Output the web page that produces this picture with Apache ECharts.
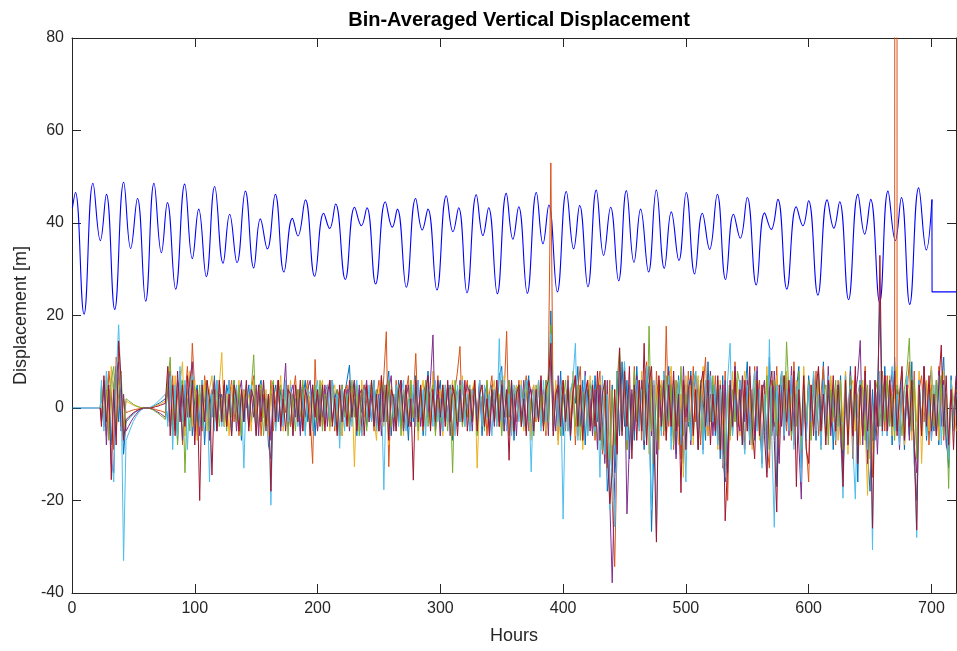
<!DOCTYPE html>
<html><head><meta charset="utf-8">
<script src="https://cdn.jsdelivr.net/npm/echarts@6/dist/echarts.min.js"></script>
<style>html,body{margin:0;padding:0;background:#fff}#c{width:957px;height:651px}</style>
</head><body><div id="c"></div>
<script>
// ---------------- DATA ----------------
const xTickValues = [0, 100, 200, 300, 400, 500, 600, 700];
const yTickValues = [-40, -20, 0, 20, 40, 60, 80];

// Depth (tide) trace: turning points
const tideHours = [
  0.3,2.8,9.8,17.1,23.1,28.0,34.8,42.1,47.8,53.3,
  60.0,66.8,72.8,77.7,84.4,91.8,98.0,103.2,109.4,116.2,
  123.0,128.4,134.4,141.2,148.0,153.4,159.1,165.6,172.6,179.5,
  184.0,190.1,197.6,205.0,209.9,214.7,222.6,230.2,235.7,240.2,
  247.3,255.2,260.9,265.0,272.3,279.9,285.3,289.9,297.2,304.9,
  310.3,314.9,321.7,329.3,334.7,339.3,346.4,353.7,359.1,363.8,
  370.8,378.2,383.6,388.4,395.3,402.6,408.6,413.5,420.2,427.0,
  433.0,438.7,445.2,451.5,457.7,463.1,469.6,475.9,482.4,488.1,
  494.3,500.3,507.1,513.4,519.3,525.6,532.3,538.8,544.3,550.0,
  557.3,564.1,569.5,574.9,582.2,589.9,595.3,599.9,607.5,615.1,
  620.5,625.2,632.5,640.1,645.6,650.5,657.8,664.6,670.6,675.5,
  682.3,689.6,695.8,700.4
];
const tideValues = [
  43.2,46.6,20.3,48.6,36.2,46.2,21.3,48.8,34.5,45.3,
  23.1,48.6,33.6,44.4,25.7,48.4,32.3,43.0,28.4,47.9,
  31.3,41.9,31.4,46.9,30.3,40.9,34.4,46.2,29.4,41.0,
  37.2,45.0,28.5,42.1,38.8,44.1,27.8,43.4,39.4,43.3,
  26.8,44.6,39.1,43.0,26.1,45.3,38.5,43.0,25.5,45.9,
  38.1,43.3,24.9,46.1,37.3,43.3,24.7,46.4,36.5,43.5,
  24.8,46.6,35.5,43.9,25.1,46.8,34.4,43.8,26.2,47.1,
  33.0,43.4,27.5,47.0,31.5,43.0,29.4,47.1,30.2,42.4,
  31.9,46.6,29.0,42.1,34.3,46.2,27.8,41.9,36.7,45.5,
  26.6,42.2,38.6,45.1,25.7,43.5,39.4,44.8,24.4,45.0,
  38.9,44.6,23.4,46.2,37.6,45.1,22.8,46.9,36.2,45.5,
  22.4,47.6,34.2,45.1
];
const tideTailHours = [700.4, 700.5, 720];
const tideTailValues = [45.1, 25.1, 25.1];

// Bin displacement series: values every 2 h from 24 h to 720 h (rows of 20 h)
const gridStart = 24, gridEnd = 720, gridStep = 2;
const leadHours = [0, 23];
const leadValues = [0, 0];

const binBlue = [
 [3,-4,6,2,-8,5,9,-3,6,-10],
 [-3,-2.4,-1.8,-1.3,-0.8,-0.5,-0.2,-0.1,0,0],
 [0.1,0.3,0.6,0.9,1.2,1.6,2,-3,6,-5],
 [4,-7,8,1,-4,3,7,-6,2,5],
 [-3,6,-8,2,4,-2,7,-5,1,3],
 [-4,5,2,-6,6,-1,3,-7,4,0],
 [5,-3,2,-5,4,6,-2,3,-8,-11],
 [2,5,-3,4,-2,6,1,-4,3,-1],
 [4,-5,2,6,-3,1,5,-6,3,-2],
 [5,-1,3,-4,6,2,-5,4,-2,3],
 [6,9.3,-3,2,-6,4,-1,5,-4,2],
 [-3,5,1,-5,7,-2,4,8,-6,3],
 [-2,6,-4,3,1,-7,5,-3,7,-1],
 [4,-6,3,8,-2,5,-4,2,6,-5],
 [3,-1,5,-7,2,4,-3,6,-2,1],
 [-5,4,2,-3,6,-6,3,1,-4,5],
 [2,-3,7,9,-5,3,-2,6,-7,4],
 [-1,5,-4,3,7,-6,2,-3,5,1],
 [-4,6,-2,21,-5,4,-3,8,-6,2],
 [5,-7,3,1,9,-4,6,-8,4,2],
 [-5,7,-3,4,-9,6,-18,-12,5,-14],
 [8,-6,10,-4,6,-11,3,-7,9,-2],
 [5,-9,7,4,-26.7,-8,3,6,-5,8],
 [-3,9,-6,4,-10,7,-2,-12,5,-4],
 [8,-5,3,-9,6,2,-7,10,-3,5],
 [-6,4,-11,7,-16,-9,5,-4,9,-2],
 [6,-8,3,10,-5,2,-7,8,-3,-12],
 [4,-9,11,-6,5,-17,2,8,-4,7],
 [-3,6,-8,4,9,-13,3,-5,7,-2],
 [5,-7,8,-3,10,-6,2,6,-9,4],
 [-2,7,-14,3,-6,9,-4,5,-16,6],
 [-5,8,-10,-18,4,-7,3,22.7,-4,9],
 [-3,6,-8,11,-5,2,7,-9,4,-6],
 [10,-12,-20,5,-4,8,-7,3,9,-5],
 [6,-8,4,11,-6,-13,7,-3,5]
];
const binOrange = [
 [-2,5,-6,8,3,-9,11,6,-4,2],
 [-1,-0.8,-0.6,-0.4,-0.3,-0.2,-0.1,0,0,0],
 [-0.1,-0.2,-0.3,-0.5,-0.6,-0.8,-1,5,-4,7],
 [-5,3,6,-8,2,9,-2,14,4,-6],
 [3,-5,7,2,-6,4,1,-3,6,-2],
 [5,-4,2,6,-3,4,-6,3,-1,5],
 [-3,4,7,-2,5,-6,3,1,-4,6],
 [-5,2,6,-3,4,-1,5,-4,3,7],
 [-2,4,-5,3,6,-2,-12,10.5,-3,5],
 [-4,3,5,-2,6,-5,2,4,-6,3],
 [5,-3,2,6,-4,3,-6,5,1,-3],
 [4,-5,2,6,-3,7,16.5,-12.7,3,-4],
 [6,-2,4,-5,3,7,-4,2,11.8,-3],
 [2,-5,6,3,-4,5,-2,7,-6,3],
 [-3,5,2,-6,4,8,13.3,-4,3,6],
 [-4,2,6,-3,5,-1,4,-6,3,7],
 [-2,5,-4,6,3,16.6,-6,2,4,-3],
 [6,-4,3,7,-5,2,5,-3,6,-1],
 [4,-6,8,53,-4,5,-7,3,6,-5],
 [7,-3,5,-8,4,9,-5,2,6,-4],
 [5,-7,3,8,-10,4,-13,6,-20,-34.3],
 [-8,11,-5,7,-9,4,-6,9,-3,6],
 [-7,5,10,-4,6,-12,8,-2,5,-6],
 [17.7,-4,7,-9,3,6,-11,5,-3,8],
 [-5,9,-3,6,-8,4,11,-6,3,-2],
 [7,-5,4,-13,8,-20,3,-6,10,-4],
 [-3,6,-9,5,2,-7,9,-4,6,-11],
 [5,-8,-13,6,-4,9,-6,3,7,-5],
 [4,-7,10,-3,6,-10,2,-8,-16,5],
 [-4,8,-6,3,9,-5,7,-2,4,-8],
 [6,-3,-9,8,-5,4,-11,7,-2,5],
 [-6,9,-12,4,-15,6,-4,3,8,-5],
 [7,-3,5,2,0,-4,8,-6,3,10],
 [-5,8,-10,4,7,-3,6,-8,5,2],
 [-6,9,4,-7,3,-11,6,-2,4]
];
// very sharp excursion of the orange bin near 671 h (goes far off scale)
const orangeSpikeHours = [671.0, 671.6, 672.2];
const orangeSpikeValues = [2, 1000, 1];

const binYellow = [
 [4,-3,7,-5,9,2,-6,12,5,-4],
 [1.5,1.2,0.9,0.6,0.4,0.2,0.1,0,0,0],
 [0.1,0.2,0.5,0.7,0.9,1.2,1.5,6,9,-4],
 [7,-3,5,10,-6,2,8,-4,6,-7],
 [3,-2,6,-5,4,7,-3,2,5,12],
 [-4,3,-6,5,2,-3,6,-5,4,1],
 [3,-5,6,2,-4,5,-2,4,-6,3],
 [5,-3,2,7,-5,3,-2,6,-4,2],
 [-3,6,-4,2,5,-6,3,1,-5,4],
 [6,-2,4,-5,3,5,-3,2,-6,4],
 [-4,2,5,-12.7,3,-5,6,-2,4,-3],
 [5,-2,-7,4,6,-4,3,-8,5,2],
 [-5,4,2,-6,5,-3,6,-2,4,-7],
 [3,6,-4,5,-3,8,-5,2,4,-6],
 [5,-3,2,6,-5,4,-2,7,-4,3],
 [-3,4,6,-13,2,5,-4,6,-2,3],
 [6,-4,3,-5,7,-2,4,-6,3,5],
 [-2,6,-5,4,2,-7,5,-3,6,-4],
 [3,-5,7,9,-4,6,-8,2,5,-3],
 [6,-4,8,-6,3,5,-9,4,-2,7],
 [-5,4,-8,6,3,-11,5,-7,-15,4],
 [-9,7,-4,10,-6,3,-8,6,2,-5],
 [8,-6,4,-10,7,-3,5,-9,6,2],
 [-7,5,9,-4,6,-8,3,-15,7,-3],
 [5,-8,4,7,-5,9,-3,-6,8,-4],
 [3,-9,6,-4,-12,5,-7,8,-3,6],
 [-6,4,8,-5,3,-9,6,2,-7,5],
 [-4,9,-7,5,-3,7,-10,4,-2,8],
 [-5,3,-8,6,4,-7,9,-3,5,-6],
 [8,-4,6,-9,3,5,-6,7,-3,4],
 [-7,5,-3,8,-10,4,6,-5,3,-8],
 [6,-4,-18.9,5,-9,3,-6,8,-3,5],
 [-4,7,-6,3,9,-5,2,-8,6,4],
 [-7,5,-3,8,-12,4,6,-5,9,-3],
 [5,-7,3,8,-4,-9,6,2,-5]
];
const binPurple = [
 [-3,6,-8,4,-12,-14,7,10,-5,3],
 [-5,-4,-3,-2.1,-1.4,-0.8,-0.4,-0.1,0,0],
 [-0.1,-0.3,-0.6,-0.9,-1.2,-1.6,-2,4,8,-5],
 [-4,6,3,-7,5,-2,6,10,-5,3],
 [-6,4,-3,5,-7,2,6,-4,3,-2],
 [5,-3,6,-2,4,-5,3,6,-3,2],
 [-4,3,-2,5,-6,4,2,-5,3,-7],
 [4,-3,6,-5,2,9.7,-4,3,5,-2],
 [3,-6,5,-2,4,6,-4,2,-5,3],
 [-2,5,-4,6,-3,2,4,-6,5,-1],
 [4,-5,3,6,-2,5,-4,2,6,-3],
 [2,6,-4,3,-6,5,-3,4,7,-5],
 [4,-3,6,-5,2,5,-4,3,-2,6],
 [-4,3,5,-2,6,15.8,-5,3,-6,4],
 [-2,5,-6,3,4,-4,6,-3,2,5],
 [3,-5,4,-2,6,-4,3,5,-6,2],
 [-4,6,-3,5,-5,2,6,-4,3,-6],
 [5,-2,6,-5,3,4,-6,2,-3,6],
 [-3,5,-6,12,3,-5,7,-4,4,-2],
 [6,-5,3,7,-6,4,-3,8,-5,2],
 [-6,4,-9,5,-3,-12,6,-20,-37.8,-15],
 [-7,6,-3,9,-22.9,-8,4,-5,7,-4],
 [6,-8,3,9,-6,5,-10,4,-3,7],
 [-5,8,-4,6,-11,3,-7,9,-2,5],
 [-8,4,7,-5,3,-9,6,-3,8,-6],
 [4,-7,5,-10,6,-14,3,-5,9,-2],
 [-5,7,-3,6,-8,4,-6,9,-4,3],
 [6,-10,4,-5,8,-3,-12,5,-7,4],
 [-6,9,-4,3,-8,-19.7,5,-7,6,-3],
 [7,-5,3,-8,6,-4,9,-6,2,-5],
 [5,-7,-12,4,-3,8,-6,3,7,14.6],
 [-8,4,-12,6,-7,3,-10,5,-4,7],
 [-6,3,8,-5,4,-9,6,-3,5,-7],
 [4,-8,-14,6,-5,9,-3,5,-7,3],
 [-5,8,-4,6,-8,-10,5,-3,7]
];
const binGreen = [
 [5,-2,4,-7,6,9,-5,3,8,-6],
 [2,1.6,1.2,0.8,0.5,0.3,0.1,0,0,0],
 [-0.2,-0.4,-0.8,-1.1,-1.6,-2,-2.5,6,11,-6],
 [3,-8,5,6,-14,2,-5,7,4,-3],
 [5,-4,2,6,-5,3,-2,6,-4,2],
 [3,-5,4,-2,6,-3,5,-6,2,4],
 [-2,4,11.5,-4,3,5,-6,2,-3,4],
 [6,-4,3,5,-2,4,-6,3,2,-5],
 [4,-2,6,-5,3,2,-4,5,-3,6],
 [-5,3,2,-4,6,-3,4,-6,5,-2],
 [3,-4,6,-2,5,-6,3,4,-5,2],
 [6,-3,4,-5,2,5,-3,6,-4,3],
 [-3,5,-6,4,2,-4,6,-2,5,-5],
 [4,-3,6,-4,3,5,-6,2,-3,5],
 [2,-5,4,-14,6,-3,5,-4,3,-2],
 [5,-3,4,-6,3,2,-5,6,-2,4],
 [-3,5,2,-6,4,-2,6,-5,3,4],
 [5,-4,3,6,-3,2,-6,5,-2,3],
 [-4,6,-3,18,-5,3,5,-6,2,6],
 [-5,3,6,-4,5,-7,3,4,-6,5],
 [3,-6,5,-3,-9,6,-4,-11,4,-8],
 [6,13,-5,7,-9,4,-6,8,-3,5],
 [-4,6,-8,17.7,-5,3,-7,6,4,-5],
 [7,-3,5,-8,6,-4,9,-6,3,-2],
 [-6,5,8,-4,6,-7,3,5,-3,7],
 [-4,6,-8,3,-11,5,-6,4,-3,8],
 [5,-6,3,-4,7,-8,4,6,-5,2],
 [-5,7,-9,4,6,-6,3,8,-4,14.3],
 [3,-6,5,-4,8,-9,4,-3,6,-7],
 [5,-3,7,-6,3,5,-8,4,-2,6],
 [-4,6,-9,5,-3,7,-5,3,-8,6],
 [4,-7,5,-11,-6,3,6,-4,5,-3],
 [6,-4,3,-7,5,2,-6,4,8,15.1],
 [-5,6,-11,4,-3,7,-6,5,3,-4],
 [6,-4,7,-6,3,-17.4,5,-3,4]
];
const binCyan = [
 [6,-5,8,3,-10,-16,7,18,4,-33],
 [-7,-5.6,-4.2,-2.9,-1.9,-1.1,-0.5,-0.1,0,0],
 [0.2,0.5,0.9,1.4,1.9,2.4,3,-4,7,-9],
 [5,-6,9,-3,6,-9,4,7,-5,2],
 [-4,6,-3,5,-16,3,-5,6,2,-4],
 [4,-3,6,-5,2,5,-4,3,-13,5],
 [-3,5,2,-6,4,-2,6,-4,3,-21],
 [3,-5,4,2,-4,6,-3,5,-6,2],
 [-4,5,2,-6,4,3,-5,2,6,-3],
 [4,-3,5,-2,6,-4,3,-8.7,4,-5],
 [2,5,-4,3,6,-3,-6,4,-2,5],
 [-3,6,-5,2,4,-17.7,5,-6,3,-2],
 [5,-4,3,6,-5,2,-3,5,-4,6],
 [-2,4,-6,5,3,-4,6,-3,2,-5],
 [5,-3,4,2,-6,5,-3,6,-4,3],
 [-5,4,2,-3,6,-4,5,-2,3,-6],
 [4,-4,15,-3,6,-5,3,-6,5,2],
 [-3,5,-4,6,3,-13.8,4,-2,6,-5],
 [6,-3,4,16,-6,3,-4,5,-24,3],
 [-5,4,6,14,-7,3,-4,7,-6,2],
 [6,-5,4,-15,7,-10,3,-22,-8,-25.7],
 [-6,8,-4,10,-7,5,-9,3,6,-5],
 [4,-7,9,-5,-22,6,-28,5,-6,8],
 [-4,7,-9,5,-3,6,-8,4,-16,6],
 [-7,4,8,-5,3,-10,6,-4,7,-3],
 [5,-8,4,-12,-15,6,14,-6,3,-4],
 [6,-4,-10,5,-7,3,8,-5,4,-13],
 [3,-14,14.8,-7,-25.8,5,-3,8,-6,4],
 [-5,7,-9,3,6,-16,4,-7,5,-3],
 [8,-5,3,-9,6,-4,7,-3,5,-7],
 [4,-6,-19.5,7,-4,5,-8,-19.7,3,6],
 [-5,7,-9,4,-30.7,6,-4,8,-6,5],
 [-6,4,9,-5,3,-8,6,-4,7,-3],
 [5,-9,-28,6,-4,8,-6,3,-7,5],
 [-4,7,-8,5,-3,-11,6,-5,3]
];
const binRed = [
 [-4,7,-3,5,-15.5,4,-8,14.5,6,-7],
 [-2.5,-2,-1.5,-1,-0.7,-0.4,-0.2,0,0,0],
 [0,0.1,0.3,0.4,0.6,0.8,1,9,-6,5],
 [-6,8,-3,5,-4,7,-2,6,-8,4],
 [-20,5,-3,6,2,-14.5,4,-5,6,-3],
 [6,-4,3,-6,5,2,-5,4,-3,6],
 [-5,4,2,-6,5,-3,6,-4,3,-18],
 [5,-3,6,-4,2,-5,4,3,-6,5],
 [-3,6,-5,4,2,-6,5,-2,4,-4],
 [5,-5,3,6,-4,2,-6,5,-3,4],
 [-4,6,-2,5,-5,3,4,-6,5,-2],
 [6,-4,3,-5,7,-3,5,-7,4,2],
 [-5,4,6,-3,5,-4,2,-15.6,6,-3],
 [5,-4,3,7,-5,4,-3,6,-2,5],
 [-4,6,-3,5,2,-6,4,-3,6,-5],
 [4,-3,6,-5,3,5,-4,2,-6,4],
 [-3,6,-4,5,-2,4,-11.3,6,-5,3],
 [5,-4,2,-6,6,3,-5,4,-3,7],
 [-5,4,6,14,-6,3,5,-4,6,-3],
 [4,-6,3,7,-4,5,-7,3,6,-5],
 [5,-4,8,-7,3,6,-9,-20.7,-14,4],
 [-10,13,-6,8,-4,9,-11,5,-7,6],
 [-5,14,-8,5,9,-6,-29,7,-4,6],
 [-7,5,-4,8,-5,3,-18.3,6,-9,4],
 [7,-6,4,-9,5,8,-4,6,-8,3],
 [-5,7,-9,5,-24.4,-12,6,-4,8,-7],
 [4,-8,6,-5,9,-4,-11,6,-6,5],
 [-6,-15,4,8,-7,-22.5,5,-4,7,-3],
 [6,-5,8,-17,4,-6,7,-9,-12,5],
 [-6,4,9,-5,3,-8,6,-4,7,-5],
 [5,-4,-17,6,-8,4,-6,9,-12,5],
 [-6,8,-5,4,-26,6,-4,33,-5,7],
 [-5,6,-4,8,-6,3,9,-7,5,-4],
 [6,-8,-26.4,5,-6,9,-4,7,-5,3],
 [-6,5,13.6,-4,7,-8,4,-9,6]
];

// ---------------- BUILD ----------------
const FONT = '"Liberation Sans", Arial, Helvetica, sans-serif';
const AX = '#262626';
const hours = [];
for (let h = gridStart; h <= gridEnd; h += gridStep) hours.push(h);
function zip(xs, ys) { return xs.map((x, i) => [x, ys[i]]); }
function binPairs(rows, withLead) {
  const vals = rows.reduce((a, r) => a.concat(r), []);
  const out = withLead ? zip(leadHours, leadValues) : [[leadHours[leadHours.length - 1], leadValues[leadValues.length - 1]]];
  vals.forEach((v, i) => { if (i < hours.length) out.push([hours[i], v]); });
  return out;
}
const orangeData = binPairs(binOrange, false).concat(zip(orangeSpikeHours, orangeSpikeValues)).sort((a, b) => a[0] - b[0]);

const bins = [
  { color: '#0072BD', data: binPairs(binBlue, true) },
  { color: '#D95319', data: orangeData },
  { color: '#EDB120', data: binPairs(binYellow, false) },
  { color: '#7E2F8E', data: binPairs(binPurple, false) },
  { color: '#77AC30', data: binPairs(binGreen, false) },
  { color: '#4DBEEE', data: binPairs(binCyan, false) },
  { color: '#A2142F', data: binPairs(binRed, false) }
];

const series = [
  { type: 'line', data: zip(tideHours, tideValues), smooth: 0.45, showSymbol: false, clip: true,
    lineStyle: { color: '#0000FF', width: 1.1 }, itemStyle: { color: '#0000FF' }, z: 2 },
  { type: 'line', data: zip(tideTailHours, tideTailValues), showSymbol: false, clip: true,
    lineStyle: { color: '#0000FF', width: 1.1 }, itemStyle: { color: '#0000FF' }, z: 2 }
].concat(bins.map((b, i) => ({
  type: 'line', data: b.data, showSymbol: false, clip: true,
  lineStyle: { color: b.color, width: 1 }, itemStyle: { color: b.color }, z: 3 + i
})));

function xAx(pos, main) {
  return {
    type: 'value', position: pos, min: 0, max: 720, interval: 100,
    name: main ? 'Hours' : '', nameLocation: 'middle', nameGap: 34,
    nameTextStyle: { fontSize: 18, color: AX, fontFamily: FONT },
    axisLine: { show: true, onZero: false, lineStyle: { color: AX, width: 1 } },
    axisTick: { show: true, inside: true, length: 9, lineStyle: { color: AX } },
    axisLabel: { show: main, fontSize: 16, color: AX, fontFamily: FONT, margin: 8, showMaxLabel: false },
    splitLine: { show: false }
  };
}
function yAx(pos, main) {
  return {
    type: 'value', position: pos, min: -40, max: 80, interval: 20,
    name: main ? 'Displacement [m]' : '', nameLocation: 'middle', nameGap: 41,
    nameTextStyle: { fontSize: 18, color: AX, fontFamily: FONT },
    axisLine: { show: true, onZero: false, lineStyle: { color: AX, width: 1 } },
    axisTick: { show: true, inside: true, length: 9, lineStyle: { color: AX } },
    axisLabel: { show: main, fontSize: 16, color: AX, fontFamily: FONT, margin: 8 },
    splitLine: { show: false }
  };
}

const chart = echarts.init(document.getElementById('c'), null, { renderer: 'canvas' });
chart.setOption({
  animation: false,
  backgroundColor: '#fff',
  title: {
    text: 'Bin-Averaged Vertical Displacement', left: 514, top: 5, textAlign: 'center',
    textStyle: { fontSize: 20, fontWeight: 'bold', color: '#000', fontFamily: FONT }
  },
  grid: { left: 72, right: 1, top: 38, bottom: 58, containLabel: false },
  xAxis: [xAx('bottom', true), xAx('top', false)],
  yAxis: [yAx('left', true), yAx('right', false)],
  series: series
});
</script>
</body></html>
